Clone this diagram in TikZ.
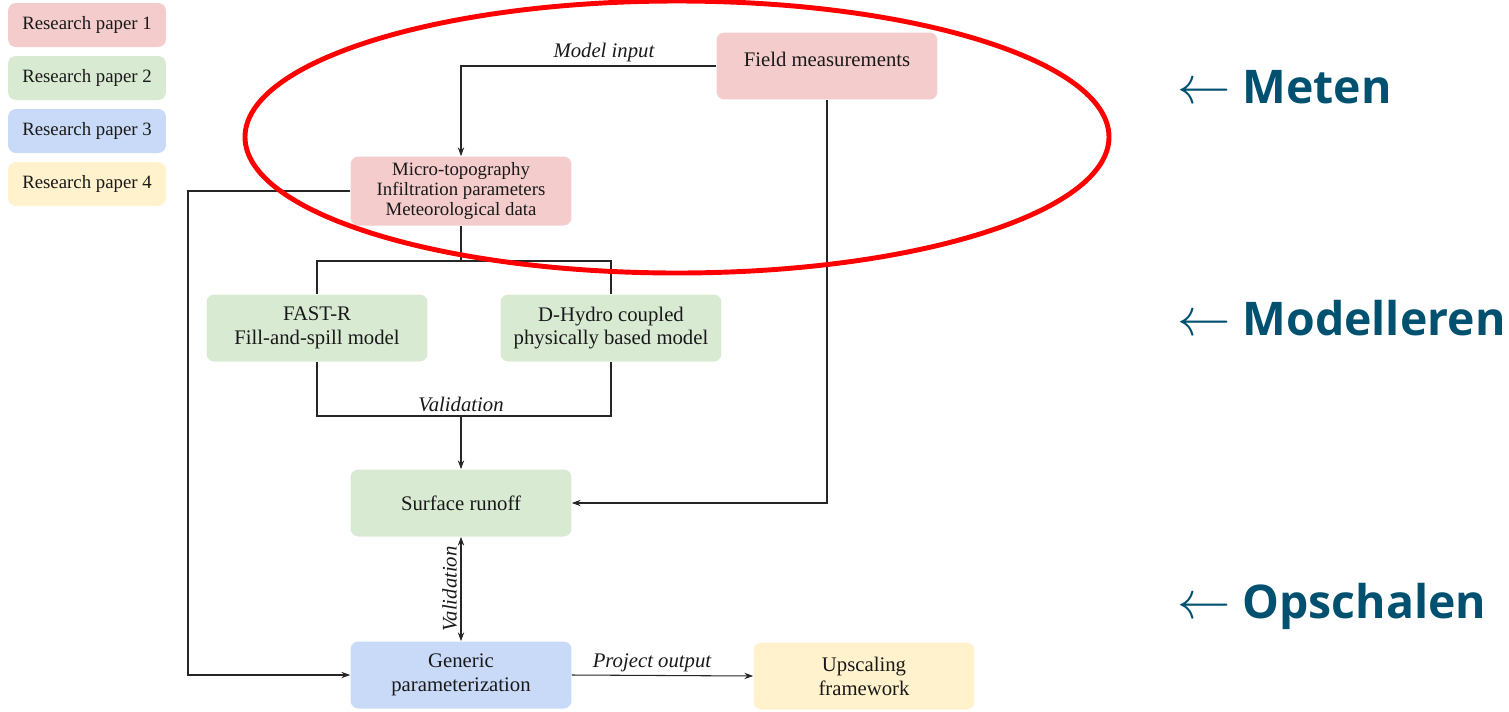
\documentclass[tikz,border=0pt]{standalone}
\usepackage{fontspec}
\usepackage{graphicx}
\setmainfont{Liberation Serif}
\newfontfamily\headfont{Open Sans}
\usetikzlibrary{arrows.meta}
\definecolor{paperA}{HTML}{F4CCCC}
\definecolor{paperB}{HTML}{D9EAD3}
\definecolor{paperC}{HTML}{C9DAF8}
\definecolor{paperD}{HTML}{FFF2CC}
\definecolor{headteal}{HTML}{00516F}
\newcommand{\phasearrow}{\scalebox{1.22}{$\leftarrow$}}
\tikzset{
  box/.style={fill=#1, rounded corners=4.5pt, align=center, text=black!90,
    minimum width=4.42cm, minimum height=1.34cm, inner sep=2pt,
    font=\fontsize{11.8}{13.6}\selectfont},
  legend/.style={box=#1, minimum width=3.16cm, minimum height=0.88cm,
    font=\fontsize{10.7}{12}\selectfont},
  flow/.style={draw=black!85, line width=0.6pt},
  arr/.style={-{Stealth[length=5pt,width=3.6pt]}},
  lbl/.style={font=\fontsize{11.8}{13}\itshape, text=black!90, inner sep=2pt},
  head/.style={anchor=west, text=headteal, font=\headfont\bfseries\fontsize{26.4}{30}\selectfont}
}
\begin{document}
\begin{tikzpicture}[x=0.02cm,y=-0.02cm]
  \useasboundingbox (0,0) rectangle (1509,711);
  % legend
  \node[legend=paperA] (rp1) at (87,25) {Research paper 1};
  \node[legend=paperB] (rp2) at (87,78) {Research paper 2};
  \node[legend=paperC] (rp3) at (87,131) {Research paper 3};
  \node[legend=paperD] (rp4) at (87,184) {Research paper 4};
  % boxes
  \node[box=paperA, text depth=8pt] (field) at (827,66) {Field measurements};
  \node[box=paperA, minimum height=1.38cm, font=\fontsize{10.7}{11.3}\selectfont] (inputs) at (461,191)
    {Micro-topography\\Infiltration parameters\\Meteorological data};
  \node[box=paperB] (fastr) at (317,328) {FAST-R\\Fill-and-spill model};
  \node[box=paperB] (dhydro) at (611,328) {D-Hydro coupled\\physically based model};
  \node[box=paperB] (runoff) at (461,503) {Surface runoff};
  \node[box=paperC] (generic) at (461,675) {Generic\\parameterization};
  \node[box=paperD] (upscale) at (864,676) {Upscaling\\framework};
  \coordinate (split) at (461,261);
  \coordinate (merge) at (461,416);
  \coordinate (leftrail) at (188,0);
  % connectors
  \draw[flow,arr] (field.west) -| (inputs.north) node[pos=0.22,above,lbl] {Model input};
  \draw[flow,arr] (field.south) |- (runoff.east);
  \draw[flow,arr] (inputs.west) -- (inputs.west -| leftrail) |- (generic.west);
  \draw[flow] (inputs.south) -- (split);
  \draw[flow] (fastr.north) |- (split) -| (dhydro.north);
  \draw[flow] (fastr.south) |- (merge) -| (dhydro.south);
  \draw[flow,arr] (merge) node[above,lbl] {Validation} -- (runoff.north);
  \draw[flow,{Stealth[length=5pt,width=3.6pt]}-{Stealth[length=5pt,width=3.6pt]}] (generic.north) -- (runoff.south)
    node[midway,sloped,above,lbl] {Validation};
  \draw[flow,arr] (generic.east) -- (upscale.west) node[midway,above,lbl,xshift=-6pt] {Project output};
  % highlight
  \draw[red, line width=2.8pt] (677,137) ellipse [x radius=432, y radius=136];
  % phases
  \node[head] (meten) at (1171,87) {\phasearrow\ Meten};
  \node[head] (model) at (1171,318) {\phasearrow\ Modelleren};
  \node[head] (opschalen) at (1171,606) {\phasearrow\ Opschalen};
\end{tikzpicture}
\end{document}
